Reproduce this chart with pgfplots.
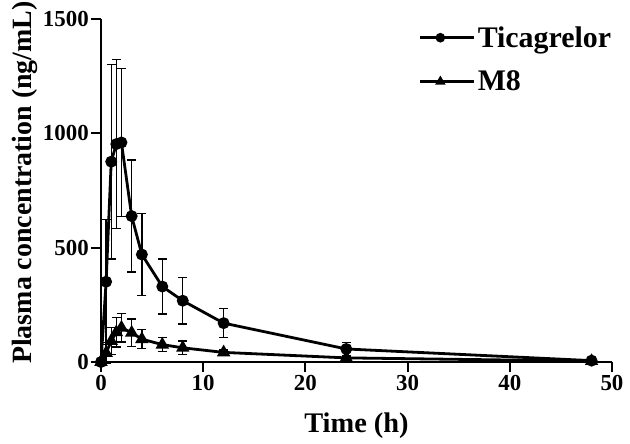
\documentclass[border=0pt]{standalone}
\usepackage{pgfplots}
\pgfplotsset{compat=1.18}
\usepackage{fontspec}
\setmainfont{Liberation Serif}
\newcommand\tl[1]{{\bfseries\fontsize{23}{23}\selectfont #1}}
\begin{document}
\begin{tikzpicture}
\path[use as bounding box] (-101bp,-82bp) rectangle (529bp,362bp);
\begin{axis}[
  at={(0,0)}, anchor=origin,
  scale only axis, width=511bp, height=343bp,
  xmin=0, xmax=50, ymin=0, ymax=1500,
  axis x line*=bottom, axis y line*=left,
  axis line style={line width=2.2bp, -},
  xtick={0,10,...,50}, ytick={0,500,1000,1500},
  xticklabels={\tl{0},\tl{10},\tl{20},\tl{30},\tl{40},\tl{50}},
  yticklabels={\tl{0},\tl{500},\tl{1000},\tl{1500}},
  every tick/.style={line width=2bp, black},
  tick align=outside, major tick length=10bp,
  every tick label/.style={font=\bfseries\fontsize{23}{23}\selectfont},
  xticklabel style={inner sep=3bp},
  yticklabel style={inner sep=2bp},
  xlabel={Time (h)}, ylabel={Plasma concentration (ng/mL)},
  xlabel style={font=\bfseries\fontsize{28.5}{28.5}\selectfont, yshift=-16bp},
  ylabel style={font=\bfseries\fontsize{28}{28}\selectfont, yshift=0bp, xshift=8bp},
  clip=false,
  legend style={draw=none, fill=none, at={(0.616,0.99)}, anchor=north west,
    font=\bfseries\fontsize{30}{32}\selectfont, row sep=18bp},
  legend cell align=left,
  legend image code/.code={\path (0bp,0bp) -- (54bp,0bp);\draw[mark repeat=2,mark phase=2,line width=2.5bp,mark size=3.5bp] plot coordinates {(0bp,0bp) (20bp,0bp) (40bp,0bp)};},
  error bars/error bar style={line width=1.3bp},
  error bars/error mark options={rotate=90, mark size=4.5bp, line width=1.3bp},
]
\addplot[black, line width=2.8bp, mark=*, mark size=4.5bp,
  error bars/.cd, y dir=both, y explicit]
  coordinates {
  (0,0) +- (0,0)
  (0.5,351) +- (0,273)
  (1,876) +- (0,425)
  (1.5,953) +- (0,370)
  (2,960) +- (0,325)
  (3,638) +- (0,245)
  (4,470) +- (0,180)
  (6,330) +- (0,120)
  (8,268) +- (0,102)
  (12,170) +- (0,63)
  (24,57) +- (0,28)
  (48,6) +- (0,6)
  };
\addlegendentry{Ticagrelor}
\addplot[black, line width=2.8bp, mark=triangle*, mark size=5bp,
  error bars/.cd, y dir=both, y explicit]
  coordinates {
  (0,0) +- (0,0)
  (0.5,40) +- (0,45)
  (1,92) +- (0,60)
  (1.5,130) +- (0,65)
  (2,150) +- (0,63)
  (3,128) +- (0,60)
  (4,100) +- (0,42)
  (6,76) +- (0,30)
  (8,62) +- (0,30)
  (12,42) +- (0,10)
  (24,18) +- (0,6)
  (48,4) +- (0,3)
  };
\addlegendentry{M8}
\end{axis}
\end{tikzpicture}
\end{document}
